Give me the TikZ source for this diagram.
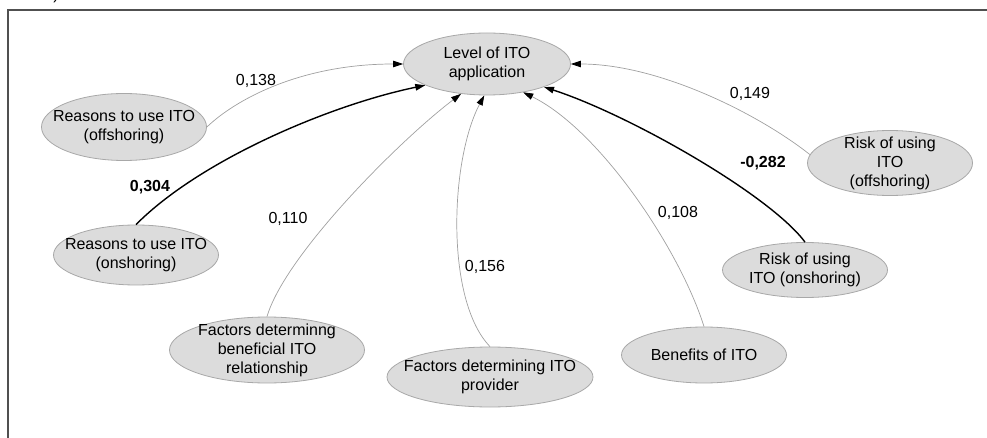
\documentclass[tikz,border=0pt]{standalone}
\usepackage{fontspec}
\setmainfont{Liberation Sans}
\usetikzlibrary{shapes.geometric,arrows.meta}
\definecolor{ellfill}{HTML}{DCDCDC}
\definecolor{elldraw}{HTML}{A8A8A8}
\definecolor{thinedge}{HTML}{A0A0A0}
\definecolor{framec}{HTML}{505050}
\tikzset{
  ell/.style 2 args={ellipse, draw=elldraw, fill=ellfill, line width=0.8pt,
    minimum width=#1, minimum height=#2, inner sep=0pt},
  lbl/.style={align=center, font=\fontsize{16}{19}\selectfont, inner sep=0pt},
  coef/.style={font=\fontsize{16}{19}\selectfont, inner sep=0pt},
  bcoef/.style={font=\fontsize{16}{19}\selectfont\bfseries, inner sep=0pt},
  thin edge/.style={draw=thinedge, line width=0.7pt,
    -{Triangle[length=10pt,width=6.5pt,fill=black,color=black]}},
  thick edge/.style={draw=black, line width=1.4pt,
    -{Triangle[length=10pt,width=6.5pt]}},
}
\begin{document}
\begin{tikzpicture}[x=1pt,y=-1pt]
\useasboundingbox (0,0) rectangle (987,438);
% frame
\coordinate (fr1) at (987,10);
\coordinate (fr2) at (8,10);
\coordinate (fr3) at (8,438);
\draw[framec, line width=1.1pt] (fr1) -- (fr2) -- (fr3);
\node[lbl, anchor=south] (cap) at (56,3) {)};

% nodes
\node[ell={167pt}{62pt}, label={[lbl,name=Lt]center:Level of ITO\\application}] (L) at (487,64) {};
\node[ell={165pt}{67pt}, label={[lbl,name=rofft]center:Reasons to use ITO\\(offshoring)}] (roff) at (124,127) {};
\node[ell={165pt}{60pt}, label={[lbl,name=ront]center:Reasons to use ITO\\(onshoring)}] (ron) at (136,255) {};
\node[ell={195pt}{66pt}, label={[lbl,name=fbt]center:Factors determinng\\beneficial ITO\\relationship}] (fb) at (267,350) {};
\node[ell={206pt}{60pt}, label={[lbl,name=fpt]center:Factors determining ITO\\provider}] (fp) at (490,377) {};
\node[ell={165pt}{56pt}, label={[lbl,name=bent]center:Benefits of ITO}] (ben) at (704,355) {};
\node[ell={165pt}{55pt}, label={[lbl,name=riont]center:Risk of using\\ITO (onshoring)}] (rion) at (805,270) {};
\node[ell={165pt}{65pt}, label={[lbl,name=riofft]center:Risk of using\\ITO\\(offshoring)}] (rioff) at (890,163) {};

% edges
\draw[thin edge] (roff.east) .. controls (235,100) and (300,64) .. (L.west);
\draw[thick edge] (ron.north) .. controls (200,160) and (330,105) .. (L.199);
\draw[thin edge] (fb.north) .. controls (285,255) and (400,140) .. (L.229);
\draw[thin edge] (fp.north) .. controls (445,300) and (450,160) .. (L.265);
\draw[thin edge] (ben.north) .. controls (680,250) and (600,130) .. (L.322);
\draw[thick edge] (rion.north) .. controls (770,195) and (630,115) .. (L.338);
\draw[thin edge] (rioff.174) .. controls (760,115) and (660,64) .. (L.east);

% coefficients
\node[coef] (c1) at (256,81) {0,138};
\node[bcoef] (c2) at (150,187) {0,304};
\node[coef] (c3) at (288,219) {0,110};
\node[coef] (c4) at (485,267) {0,156};
\node[coef] (c5) at (678,213) {0,108};
\node[bcoef] (c6) at (763,163) {-0,282};
\node[coef] (c7) at (750,94) {0,149};
\end{tikzpicture}
\end{document}
